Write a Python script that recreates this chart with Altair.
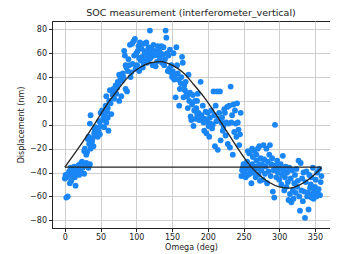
import altair as alt
import pandas as pd

# Scatter data (Omega deg, Displacement nm)
omega = [
    0, 2, 4, 5, 7, 9, 10, 12, 14, 15, 17, 18, 20, 21, 22, 24, 25, 27, 28, 30, 32, 33, 35, 6, 8, 11, 13, 16, 19, 23, 26, 3, 1,
    27, 28, 30, 31, 32, 33, 34, 35, 36, 37, 38, 40, 41, 42, 43, 44, 45, 46, 47, 48, 49, 50, 39, 36,
    50, 52, 53, 54, 55, 56, 57, 58, 59, 60, 61, 62, 63, 64, 65, 66, 67, 68, 69, 70, 71, 72, 73, 74, 75, 58, 60,
    76, 77, 78, 79, 80, 81, 82, 83, 84, 85, 86, 87, 88, 89, 90, 91, 92, 93, 94, 95, 96, 97, 98, 99, 100, 76, 85,
    101, 102, 103, 104, 105, 106, 107, 108, 109, 110, 111, 112, 113, 114, 115, 116, 117, 118, 119, 120, 121, 122, 123, 124, 125, 104, 110, 118,
    126, 127, 128, 129, 130, 131, 132, 133, 134, 135, 136, 137, 138, 139, 140, 141, 142, 143, 144, 145, 146, 147, 148, 149, 150,
    151, 152, 153, 154, 155, 156, 157, 158, 159, 160, 161, 162, 163, 164, 165, 166, 167, 168, 169, 170, 171, 172, 173, 174, 175,
    176, 177, 178, 179, 180, 181, 182, 183, 184, 185, 186, 187, 188, 189, 190, 191, 192, 193, 194, 195, 196, 197, 198, 199, 200, 185,
    201, 202, 203, 204, 205, 206, 207, 208, 209, 210, 211, 212, 213, 214, 215, 216, 217, 218, 219, 220, 221, 222, 223, 224, 225,
    226, 227, 228, 229, 230, 231, 232, 233, 234, 235, 236, 237, 238, 239, 240, 241, 242, 243, 244, 245, 246, 247, 248, 249, 250,
    251, 252, 253, 254, 255, 256, 257, 258, 259, 260, 261, 262, 263, 264, 265, 266, 267, 268, 269, 270, 271, 272, 273, 274, 275, 256, 262, 268, 272,
    276, 277, 278, 279, 280, 281, 282, 283, 284, 285, 286, 287, 288, 289, 290, 291, 292, 293, 294, 295, 296, 297, 298, 299, 300,
    301, 302, 303, 304, 305, 306, 307, 308, 309, 310, 311, 312, 313, 314, 315, 316, 317, 318, 319, 320, 321, 322, 323, 324, 325,
    326, 327, 328, 329, 330, 331, 332, 333, 334, 335, 336, 337, 338, 339, 340, 341, 342, 343, 344, 345, 346, 347, 348, 349, 350,
    351, 352, 353, 354, 355, 356, 357, 358, 359, 345, 352,
]
displacement = [
    -45, -61, -60, -42, -49, -47, -40, -38, -44, -51, -40, -36, -42, -33, -38, -31, -36, -41, -34, -32, -35, -36, -33, -39, -36, -43, -35, -37, -34, -35, -33, -44, -42,
    -22, -20, -25, -23, -12, -10, -16, 1, 8, -18, -14, -18, -7, -4, -2, -9, -6, -10, -5, 3, -8, -1, -11, -20,
    10, 12, 4, 6, -2, 8, 16, 24, 11, 14, -5, 20, 29, 18, 9, 28, 25, 30, 22, 27, 33, 26, 31, 36, 34, 2, 6,
    42, 41, 38, 24, 37, 43, 40, 62, 58, 50, 48, 28, 45, 55, 50, 67, 40, 44, 68, 51, 70, 58, 72, 47, 60, 20, 30,
    50, 62, 66, 56, 69, 54, 64, 57, 48, 68, 62, 60, 55, 69, 52, 58, 65, 62, 79, 56, 64, 60, 50, 67, 58, 45, 52, 55,
    62, 49, 60, 53, 66, 58, 62, 55, 60, 66, 52, 59, 65, 50, 55, 79, 73, 60, 45, 58, 47, 63, 44, 50, 40,
    45, 60, 38, 42, 23, 65, 50, 43, 38, 16, 30, 35, 40, 57, 52, 23, 33, 29, 36, 25, 24, 14, 42, 20, 27,
    7, 4, 17, 25, -1, 12, 20, 5, 14, 9, 26, 10, 4, 7, 36, 8, 6, 16, 2, -5, 5, 11, -7, 3, 10, 20,
    -1, -10, 6, 1, 12, -3, 0, 28, 8, -18, 16, 3, 28, -21, 5, 10, 28, -13, 2, 6, -5, -1, 13, 10, -9,
    2, 15, -16, 1, 16, -19, 32, 2, 8, -25, 17, -6, 12, 1, -10, 18, 2, -4, -17, -8, 10, -43, -38, -36, -33,
    -40, -34, -44, -37, -31, -42, -36, -24, -41, -38, -49, -33, -27, -40, -22, -35, -44, -30, -37, -20, -42, -33, -47, -28, -38, -22, -20, -25, -18,
    -33, -46, -17, -29, -41, -35, -20, -49, -31, -39, -25, -17, -43, -33, -28, -56, -38, -61, 0, -34, -44, -30, -40, -36, -46,
    -37, -33, -50, -42, -26, -38, -55, -44, -35, -52, -40, -48, -63, -36, -58, -45, -65, -38, -55, -62, -49, -42, -57, -37, -52,
    -47, -30, -60, -72, -32, -55, -45, -64, -40, -56, -78, -48, -39, -60, -57, -71, -42, -53, -50, -44, -58, -36, -62, -55, -52,
    -46, -60, -40, -57, -54, -37, -59, -48, -43, -61, -55,
]

# Fitted curve
fit_omega = [0, 15, 30, 45, 60, 75, 90, 105, 120, 135, 150, 165, 180, 195, 210, 225, 240, 255, 270, 285, 300, 315, 330, 345, 359]
fit_disp = [-35.5, -23, -10, 4, 18, 30, 41, 48, 52, 53, 50, 44, 34, 23, 10, -4, -18, -31, -41, -48, -52, -53, -50, -44, -36]

# Closing baseline of the fit path
base_omega = [0, 359]
base_disp = [-35.5, -35.5]

x_ticks = [0, 50, 100, 150, 200, 250, 300, 350]
y_ticks = [-80, -60, -40, -20, 0, 20, 40, 60, 80]

pts = pd.DataFrame({"omega": omega, "disp": displacement})
fit = pd.DataFrame({"omega": fit_omega, "disp": fit_disp})
base = pd.DataFrame({"omega": base_omega, "disp": base_disp})

xscale = alt.Scale(domain=[-18, 371], nice=False, zero=False)
yscale = alt.Scale(domain=[-86.5, 87], nice=False, zero=False)

xenc = alt.X("omega:Q", scale=xscale,
             axis=alt.Axis(values=x_ticks, title="Omega (deg)", format="d"))
yenc = alt.Y("disp:Q", scale=yscale,
             axis=alt.Axis(values=y_ticks, title="Displacement (nm)", format="d"))

scatter = alt.Chart(pts).mark_circle(size=34, opacity=1, color="#1a86f5").encode(x=xenc, y=yenc)
curve = alt.Chart(fit).mark_line(color="#222222", strokeWidth=1.3, interpolate="monotone").encode(x=xenc, y=yenc)
baseline = alt.Chart(base).mark_line(color="#222222", strokeWidth=1.3).encode(x=xenc, y=yenc)

chart = alt.layer(scatter, curve, baseline).properties(
    width=278,
    height=207,
    title=alt.TitleParams("SOC measurement (interferometer_vertical)", fontSize=9.5,
                          font="DejaVu Sans", fontWeight="normal", color="#222222", offset=4),
    autosize=alt.AutoSizeParams(type="none"),
    padding={"left": 44, "top": 13, "right": 0, "bottom": 26},
).configure_view(
    stroke="#222222", strokeWidth=1
).configure_axis(
    labelFont="DejaVu Sans", labelFontSize=8, labelColor="#222222",
    titleFont="DejaVu Sans", titleFontSize=8, titleFontWeight="normal", titleColor="#222222",
    tickColor="#222222", tickSize=3.5, domainColor="#222222",
    gridColor="#c8c8c8", gridWidth=0.9, labelPadding=2,
).configure_axisX(titlePadding=2).configure_axisY(titlePadding=4)

chart.save("out.html", embed_options={"renderer": "svg", "actions": False})
